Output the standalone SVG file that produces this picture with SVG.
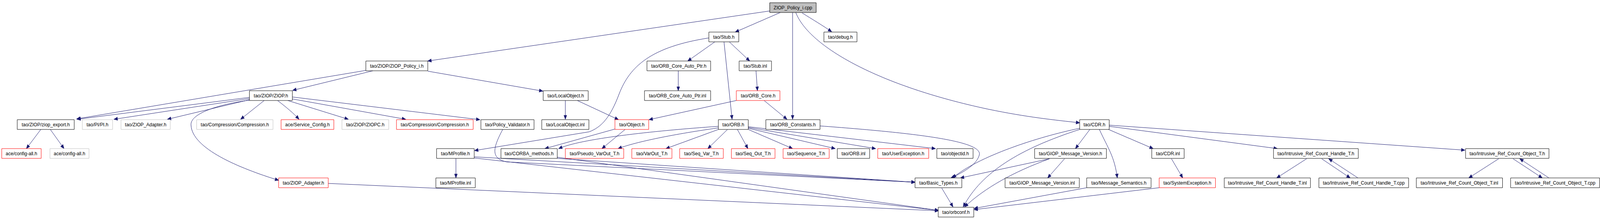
<svg xmlns="http://www.w3.org/2000/svg" width="4548" height="560" viewBox="0 0 4548 560">
<style>
.n rect{fill:#fff;stroke:#000;stroke-width:1;vector-effect:non-scaling-stroke}
.n.red rect{stroke:#ff0000}
.n.gray rect{stroke:#bfbfbf}
.n.root rect{fill:#bfbfbf;stroke:#000}
.n text{font-family:"Liberation Sans",Arial,sans-serif;font-size:13.33px;fill:#000;text-anchor:middle}
#edges path{fill:none;stroke:#191970;stroke-width:1;vector-effect:non-scaling-stroke;marker-end:url(#ah)}
</style>
<defs>
<marker id="ah" markerUnits="userSpaceOnUse" markerWidth="10" markerHeight="8" refX="10" refY="4" orient="auto" overflow="visible">
<path d="M0,0 L10,4 L0,8 z" fill="#191970" stroke="#191970"/>
</marker>
</defs>
<rect width="4548" height="560" fill="#fff"/>
<g id="diagram" transform="scale(0.9006 1)">
<g id="edges">
<path d="M2188,28 L1216,156"/>
<path d="M2218,32 L2090,82"/>
<path d="M2253,32 L2253,305"/>
<path d="M2280,33 C2310,50 2340,66 2364,81"/>
<path d="M2262,32 C2300,120 2500,220 2808,279 C2920,300 3000,307 3069,314"/>
<path d="M2015,97 C1850,120 1790,170 1760,240 C1735,300 1710,325 1675,337 L1349,385"/>
<path d="M2032,107 L1955,156"/>
<path d="M2073,107 L2131,156"/>
<path d="M2058,107 L2081,305"/>
<path d="M1928,181 L1928,232"/>
<path d="M2149,181 L2153,232"/>
<path d="M2093,257 L1845,306"/>
<path d="M2172,257 L2237,305"/>
<path d="M1607,257 L1607,305"/>
<path d="M1641,257 L1758,306"/>
<path d="M1060,181 L832,231"/>
<path d="M1040,180 L218,304"/>
<path d="M1216,182 L1543,233"/>
<path d="M709,249 L219,305"/>
<path d="M709,252 L324,305"/>
<path d="M709,255 L476,305"/>
<path d="M709,256 C600,270 540,295 543,320 C546,380 680,430 792,461"/>
<path d="M751,257 L684,305"/>
<path d="M789,257 C815,275 835,290 850,305"/>
<path d="M818,257 L990,305"/>
<path d="M831,253 L1153,305"/>
<path d="M831,248 L1364,306"/>
<path d="M116,331 L75,380"/>
<path d="M143,331 L182,380"/>
<path d="M1429,331 C1400,380 1395,405 1440,414 L2601,466"/>
<path d="M1296,405 L1296,455"/>
<path d="M1348,401 L2601,466"/>
<path d="M1584,405 L2601,466"/>
<path d="M1348,404 L2668,538"/>
<path d="M1584,402 L2668,538"/>
<path d="M933,469 L2668,539"/>
<path d="M2042,323 C1850,335 1650,355 1588,380"/>
<path d="M1748,330 L1549,380"/>
<path d="M1777,331 L1711,380"/>
<path d="M2042,327 C1900,345 1800,365 1757,380"/>
<path d="M2042,331 L1893,380"/>
<path d="M2068,331 L2012,380"/>
<path d="M2096,331 L2126,380"/>
<path d="M2127,331 L2253,380"/>
<path d="M2127,328 L2374,380"/>
<path d="M2127,326 L2489,380"/>
<path d="M2127,324 L2659,380"/>
<path d="M2331,322 C2600,340 2790,360 2784,395 C2778,420 2740,440 2703,455"/>
<path d="M3069,328 C2950,350 2780,400 2708,455"/>
<path d="M3069,331 C2900,380 2790,440 2738,529"/>
<path d="M3098,331 L3057,380"/>
<path d="M3125,331 C3150,380 3168,400 3176,455"/>
<path d="M3151,331 L3278,380"/>
<path d="M3153,323 L3631,380"/>
<path d="M3153,320 L4164,384"/>
<path d="M2983,406 L2730,455"/>
<path d="M2983,406 C2880,440 2800,480 2742,529"/>
<path d="M3026,406 L2978,455"/>
<path d="M3089,480 L2769,533"/>
<path d="M3295,480 L2769,536"/>
<path d="M3330,406 L3362,455"/>
<path d="M2677,481 L2709,529"/>
<path d="M3714,406 L3629,455"/>
<path d="M3757,406 L3838,455"/>
<path d="M3860,455 L3777,406"/>
<path d="M4260,406 L4175,455"/>
<path d="M4301,406 L4384,455"/>
<path d="M4403,455 L4320,406"/>
</g>
<g id="root" class="n root"><rect x="2188" y="7" width="132" height="25"/><text x="2254" y="24">ZIOP_Policy_i.cpp</text></g>
<g id="stub_h" class="n"><rect x="2015" y="82" width="85" height="25"/><text x="2057.5" y="99">tao/Stub.h</text></g>
<g id="debug_h" class="n"><rect x="2342" y="82" width="94" height="25"/><text x="2389" y="99">tao/debug.h</text></g>
<g id="ziop_policy_i_h" class="n"><rect x="1040" y="156" width="176" height="25"/><text x="1128" y="173">tao/ZIOP/ZIOP_Policy_i.h</text></g>
<g id="orb_core_auto_ptr_h" class="n"><rect x="1839" y="156" width="181" height="25"/><text x="1929.5" y="173">tao/ORB_Core_Auto_Ptr.h</text></g>
<g id="stub_inl" class="n"><rect x="2101" y="156" width="92" height="25"/><text x="2147" y="173">tao/Stub.inl</text></g>
<g id="ziop_h" class="n"><rect x="709" y="232" width="122" height="25"/><text x="770" y="249">tao/ZIOP/ZIOP.h</text></g>
<g id="localobject_h" class="n"><rect x="1544" y="232" width="128" height="25"/><text x="1608" y="249">tao/LocalObject.h</text></g>
<g id="orb_core_auto_ptr_inl" class="n"><rect x="1832" y="232" width="188" height="25"/><text x="1926" y="249">tao/ORB_Core_Auto_Ptr.inl</text></g>
<g id="orb_core_h" class="n red"><rect x="2093" y="232" width="124" height="25"/><text x="2155" y="249">tao/ORB_Core.h</text></g>
<g id="ziop_export_h" class="n"><rect x="49" y="306" width="162" height="25"/><text x="130" y="323">tao/ZIOP/ziop_export.h</text></g>
<g id="pi_h" class="n gray"><rect x="234" y="306" width="86" height="25"/><text x="277" y="323">tao/PI/PI.h</text></g>
<g id="ziop_adapter_h_1" class="n gray"><rect x="344" y="306" width="140" height="25"/><text x="414" y="323">tao/ZIOP_Adapter.h</text></g>
<g id="compression_h_1" class="n gray"><rect x="559" y="306" width="217" height="25"/><text x="667.5" y="323">tao/Compression/Compression.h</text></g>
<g id="service_config_h" class="n red"><rect x="799" y="306" width="150" height="25"/><text x="874" y="323">ace/Service_Config.h</text></g>
<g id="ziopc_h" class="n gray"><rect x="972" y="306" width="133" height="25"/><text x="1038.5" y="323">tao/ZIOP/ZIOPC.h</text></g>
<g id="compression_h_2" class="n red"><rect x="1127" y="306" width="218" height="25"/><text x="1236" y="323">tao/Compression/Compression.h</text></g>
<g id="policy_validator_h" class="n"><rect x="1367" y="306" width="151" height="25"/><text x="1442.5" y="323">tao/Policy_Validator.h</text></g>
<g id="localobject_inl" class="n"><rect x="1540" y="306" width="134" height="25"/><text x="1607" y="323">tao/LocalObject.inl</text></g>
<g id="object_h" class="n red"><rect x="1748" y="306" width="96" height="25"/><text x="1796" y="323">tao/Object.h</text></g>
<g id="orb_h" class="n"><rect x="2042" y="306" width="85" height="25"/><text x="2084.5" y="323">tao/ORB.h</text></g>
<g id="orb_constants_h" class="n"><rect x="2177" y="306" width="154" height="25"/><text x="2254" y="323">tao/ORB_Constants.h</text></g>
<g id="cdr_h" class="n"><rect x="3069" y="306" width="84" height="25"/><text x="3111" y="323">tao/CDR.h</text></g>
<g id="config_all_h_1" class="n red"><rect x="5" y="380" width="112" height="25"/><text x="61" y="397">ace/config-all.h</text></g>
<g id="config_all_h_2" class="n gray"><rect x="142" y="380" width="111" height="25"/><text x="197.5" y="397">ace/config-all.h</text></g>
<g id="mprofile_h" class="n"><rect x="1241" y="380" width="107" height="25"/><text x="1294.5" y="397">tao/MProfile.h</text></g>
<g id="corba_methods_h" class="n"><rect x="1424" y="380" width="160" height="25"/><text x="1504" y="397">tao/CORBA_methods.h</text></g>
<g id="pseudo_varout_t_h" class="n red"><rect x="1607" y="380" width="166" height="25"/><text x="1690" y="397">tao/Pseudo_VarOut_T.h</text></g>
<g id="varout_t_h" class="n red"><rect x="1796" y="380" width="114" height="25"/><text x="1853" y="397">tao/VarOut_T.h</text></g>
<g id="seq_var_t_h" class="n red"><rect x="1932" y="380" width="124" height="25"/><text x="1994" y="397">tao/Seq_Var_T.h</text></g>
<g id="seq_out_t_h" class="n red"><rect x="2079" y="380" width="124" height="25"/><text x="2141" y="397">tao/Seq_Out_T.h</text></g>
<g id="sequence_t_h" class="n red"><rect x="2226" y="380" width="131" height="25"/><text x="2291.5" y="397">tao/Sequence_T.h</text></g>
<g id="orb_inl" class="n"><rect x="2380" y="380" width="92" height="25"/><text x="2426" y="397">tao/ORB.inl</text></g>
<g id="userexception_h" class="n red"><rect x="2495" y="380" width="145" height="25"/><text x="2567.5" y="397">tao/UserException.h</text></g>
<g id="objectid_h" class="n"><rect x="2663" y="380" width="103" height="25"/><text x="2714.5" y="397">tao/objectid.h</text></g>
<g id="giop_message_version_h" class="n"><rect x="2941" y="380" width="204" height="25"/><text x="3043" y="397">tao/GIOP_Message_Version.h</text></g>
<g id="cdr_inl" class="n"><rect x="3274" y="380" width="92" height="25"/><text x="3320" y="397">tao/CDR.inl</text></g>
<g id="irch_h" class="n"><rect x="3620" y="380" width="241" height="25"/><text x="3740.5" y="397">tao/Intrusive_Ref_Count_Handle_T.h</text></g>
<g id="irco_h" class="n"><rect x="4166" y="380" width="237" height="25"/><text x="4284.5" y="397">tao/Intrusive_Ref_Count_Object_T.h</text></g>
<g id="ziop_adapter_h_2" class="n red"><rect x="792" y="455" width="141" height="25"/><text x="862.5" y="472">tao/ZIOP_Adapter.h</text></g>
<g id="mprofile_inl" class="n"><rect x="1239" y="455" width="112" height="25"/><text x="1295" y="472">tao/MProfile.inl</text></g>
<g id="basic_types_h" class="n"><rect x="2601" y="455" width="133" height="25"/><text x="2667.5" y="472">tao/Basic_Types.h</text></g>
<g id="giop_message_version_inl" class="n"><rect x="2857" y="455" width="211" height="25"/><text x="2962.5" y="472">tao/GIOP_Message_Version.inl</text></g>
<g id="message_semantics_h" class="n"><rect x="3089" y="455" width="183" height="25"/><text x="3180.5" y="472">tao/Message_Semantics.h</text></g>
<g id="systemexception_h" class="n red"><rect x="3295" y="455" width="160" height="25"/><text x="3375" y="472">tao/SystemException.h</text></g>
<g id="irch_inl" class="n"><rect x="3480" y="455" width="245" height="25"/><text x="3602.5" y="472">tao/Intrusive_Ref_Count_Handle_T.inl</text></g>
<g id="irch_cpp" class="n"><rect x="3749" y="455" width="255" height="25"/><text x="3876.5" y="472">tao/Intrusive_Ref_Count_Handle_T.cpp</text></g>
<g id="irco_inl" class="n"><rect x="4026" y="455" width="245" height="25"/><text x="4148.5" y="472">tao/Intrusive_Ref_Count_Object_T.inl</text></g>
<g id="irco_cpp" class="n"><rect x="4294" y="455" width="253" height="25"/><text x="4420.5" y="472">tao/Intrusive_Ref_Count_Object_T.cpp</text></g>
<g id="orbconf_h" class="n"><rect x="2667" y="530" width="101" height="25"/><text x="2717.5" y="547">tao/orbconf.h</text></g>
</g>
</svg>
